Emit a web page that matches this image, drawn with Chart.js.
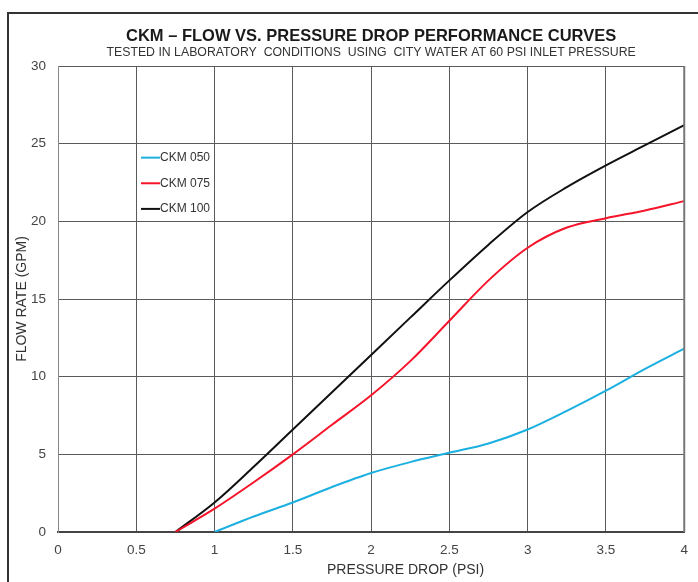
<!DOCTYPE html>
<html>
<head>
<meta charset="utf-8">
<script src="https://cdn.jsdelivr.net/npm/chart.js@4"></script>
<style>
  html, body { margin: 0; padding: 0; background: #fff; }
  #wrap { position: relative; width: 698px; height: 582px; overflow: hidden; }
  #frame { position: absolute; left: 7px; top: 12px; width: 720px; height: 600px;
           border-left: 2px solid #333; border-top: 2px solid #333; box-sizing: border-box; }
  canvas { position: absolute; left: 0; top: 0; }
</style>
</head>
<body>
<div id="wrap">
  <div id="frame"></div>
  <canvas id="c" width="698" height="582"></canvas>
</div>
<script>
const titleText = "CKM \u2013 FLOW VS. PRESSURE DROP PERFORMANCE CURVES";
const subtitleText = "TESTED IN LABORATORY  CONDITIONS  USING  CITY WATER AT 60 PSI INLET PRESSURE";
const xAxisTitle = "PRESSURE DROP (PSI)";
const yAxisTitle = "FLOW RATE (GPM)";
const seriesNames = ["CKM 050", "CKM 075", "CKM 100"];
const seriesColors = ["#1cb0e0", "#f5142a", "#111111"];

const x050 = [1, 1.25, 1.5, 1.75, 2, 2.25, 2.5, 2.75, 3, 3.25, 3.5, 3.75, 4];
const y050 = [0, 1.0, 1.9, 2.9, 3.8, 4.5, 5.1, 5.7, 6.6, 7.8, 9.1, 10.5, 11.8];
const x075 = [0.75, 1, 1.25, 1.5, 1.75, 2, 2.25, 2.5, 2.75, 3, 3.25, 3.5, 3.75, 4];
const y075 = [0, 1.5, 3.2, 5.0, 6.9, 8.8, 11.0, 13.6, 16.2, 18.3, 19.6, 20.2, 20.7, 21.3];
const x100 = [0.75, 1, 1.25, 1.5, 1.75, 2, 2.25, 2.5, 2.75, 3, 3.25, 3.5, 3.75, 4];
const y100 = [0, 1.9, 4.2, 6.6, 9.0, 11.4, 13.8, 16.2, 18.5, 20.6, 22.2, 23.6, 24.9, 26.2];

const xTicks = [0, 0.5, 1, 1.5, 2, 2.5, 3, 3.5, 4];
const yTicks = [0, 5, 10, 15, 20, 25, 30];

const FONT = '"Liberation Sans", Arial, sans-serif';
const toPts = (xs, ys) => xs.map((x, i) => ({x: x, y: ys[i]}));
const seriesX = [x050, x075, x100];
const seriesY = [y050, y075, y100];

const datasets = seriesNames.map((n, i) => ({
  label: n,
  data: toPts(seriesX[i], seriesY[i]),
  borderColor: seriesColors[i],
  backgroundColor: seriesColors[i],
  borderWidth: 2,
  pointRadius: 0,
  showLine: true,
  cubicInterpolationMode: 'monotone',
  fill: false
}));

const headerPlugin = {
  id: 'header',
  afterDraw(chart) {
    const ctx = chart.ctx;
    const ca = chart.chartArea;
    const cx = (ca.left + ca.right) / 2;
    ctx.save();
    ctx.textAlign = 'center';
    ctx.textBaseline = 'middle';
    ctx.fillStyle = '#1a1a1a';
    ctx.font = 'bold 16.5px ' + FONT;
    ctx.fillText(titleText, cx, 36.5);
    ctx.fillStyle = '#333';
    ctx.font = '12.3px ' + FONT;
    ctx.fillText(subtitleText, cx, 52.5);
    // x-axis title, sits slightly right of centre in the reference
    ctx.font = '14px ' + FONT;
    ctx.fillText(xAxisTitle, ca.left + (ca.right - ca.left) * 0.555, 570);
    ctx.restore();
  }
};

const legendPlugin = {
  id: 'innerLegend',
  afterDatasetsDraw(chart) {
    const ctx = chart.ctx;
    const xs = chart.scales.x, ys = chart.scales.y;
    const lx = xs.getPixelForValue(0.53);
    ctx.save();
    ctx.font = '12px ' + FONT;
    ctx.textBaseline = 'middle';
    ctx.textAlign = 'left';
    const rows = [24.1, 22.45, 20.8];
    seriesNames.forEach((n, i) => {
      const y = ys.getPixelForValue(rows[i]);
      ctx.strokeStyle = seriesColors[i];
      ctx.lineWidth = 2;
      ctx.beginPath();
      ctx.moveTo(lx, y);
      ctx.lineTo(lx + 19, y);
      ctx.stroke();
      ctx.fillStyle = '#333';
      ctx.fillText(n, lx + 19, y);
    });
    ctx.restore();
  }
};

new Chart(document.getElementById('c'), {
  type: 'scatter',
  data: { datasets: datasets },
  options: {
    responsive: false,
    animation: false,
    layout: { padding: { top: 66, right: 10, left: 0, bottom: 0 } },
    plugins: {
      legend: { display: false },
      tooltip: { enabled: false },
      title: { display: false }
    },
    scales: {
      x: {
        type: 'linear',
        min: 0, max: 4,
        afterFit(s) { s.height = 50; },
        afterBuildTicks(s) { s.ticks = xTicks.map(v => ({value: v})); },
        grid: { color: '#5a5a5a', lineWidth: 1, drawTicks: false },
        border: { color: '#444', width: 2 },
        ticks: { color: '#444', font: { size: 13.5, family: FONT }, padding: 10, maxRotation: 0,
                 callback: (v) => String(v) },
        title: { display: false }
      },
      y: {
        type: 'linear',
        min: 0, max: 30,
        afterFit(s) { s.width = 58; },
        afterBuildTicks(s) { s.ticks = yTicks.map(v => ({value: v})); },
        grid: { color: '#5a5a5a', lineWidth: 1, drawTicks: false },
        border: { color: '#888', width: 1 },
        ticks: { color: '#444', font: { size: 13.5, family: FONT }, padding: 12,
                 callback: (v) => String(v) },
        title: { display: true, text: yAxisTitle, color: '#333', font: { size: 14, family: FONT }, padding: { top: 13.6, bottom: 0 } }
      }
    }
  },
  plugins: [headerPlugin, legendPlugin, {
    id: 'rightBorder',
    afterDraw(chart) {
      const ctx = chart.ctx, ca = chart.chartArea;
      ctx.save();
      ctx.strokeStyle = '#777';
      ctx.lineWidth = 2;
      ctx.beginPath();
      ctx.moveTo(ca.right, ca.top);
      ctx.lineTo(ca.right, ca.bottom);
      ctx.stroke();
      ctx.restore();
    }
  }]
});
</script>
</body>
</html>
